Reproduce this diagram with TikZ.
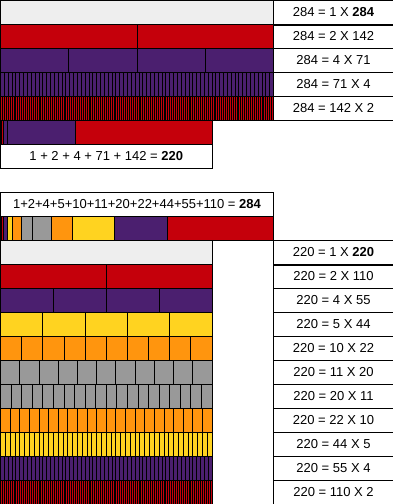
\documentclass[tikz,border=0pt]{standalone}
\usepackage{fontspec}
\setmainfont{Liberation Sans}
\usepackage{xcolor}
\usepackage{tikz}
\definecolor{barLight}{HTML}{EEEEEE}
\definecolor{barRed}{HTML}{C5000B}
\definecolor{barPurple}{HTML}{4B1F6F}
\definecolor{barYellow}{HTML}{FFD320}
\definecolor{barOrange}{HTML}{FF950E}
\definecolor{barGray}{HTML}{999999}
\def\unit{0.9613}

\begin{document}
\begin{tikzpicture}[x=1pt,y=-1pt,line width=1pt,font=\fontsize{13}{15}\selectfont,
      slot/.style={draw,line width=0.8pt},
      cell/.style={draw,minimum width=120pt,minimum height=24pt,inner sep=0pt,outer sep=0pt},
      sumbox/.style={draw,minimum height=24pt,inner sep=0pt,outer sep=0pt,anchor=north west}]
    \useasboundingbox (-0.5,-0.5) rectangle (392.5,503.5);
    % 284 split into equal parts
    \foreach \y/\n/\c in {0/1/barLight,24/2/barRed,48/4/barPurple,72/71/barPurple,96/142/barRed}{
      \pgfmathsetmacro{\w}{273/\n}
      \foreach \i in {1,...,\n}{\draw[slot,fill=\c] ({(\i-1)*\w},\y) rectangle ++(\w,24);}
    }
    \foreach \y/\t [count=\k] in {12/{284 = 1 X \textbf{284}},36/{284 = 2 X 142},60/{284 = 4 X 71},
        84/{284 = 71 X 4},108/{284 = 142 X 2}}{
      \node[cell] (top\k) at (333,\y) {\t};
    }
    \draw[line width=2pt] (top1.south west) -- (top1.south east);
    % divisors of 284
    \foreach \a/\b/\c in {0/1/barRed,1/3/barRed,3/7/barPurple,7/78/barPurple,78/220/barRed}
      \draw[slot,fill=\c] ({\a*\unit},120) rectangle ({\b*\unit},144);
    \node[sumbox,minimum width=211.5pt] (sumA) at (0,144) {1 + 2 + 4 + 71 + 142 = \textbf{220}};

    % divisors of 220
    \node[sumbox,minimum width=273pt] (sumB) at (0,192) {1+2+4+5+10+11+20+22+44+55+110 = \textbf{284}};
    \foreach \a/\b/\c in {0/1/barRed,1/3/barRed,3/7/barPurple,7/12/barYellow,12/22/barOrange,22/33/barGray,
        33/53/barGray,53/75/barOrange,75/119/barYellow,119/174/barPurple,174/284/barRed}
      \draw[slot,fill=\c] ({\a*\unit},216) rectangle ({\b*\unit},240);
    % 220 split into equal parts
    \foreach \y/\n/\c in {240/1/barLight,264/2/barRed,288/4/barPurple,312/5/barYellow,336/10/barOrange,
        360/11/barGray,384/20/barGray,408/22/barOrange,432/44/barYellow,456/55/barPurple,480/110/barRed}{
      \pgfmathsetmacro{\w}{211.5/\n}
      \foreach \i in {1,...,\n}{\draw[slot,fill=\c] ({(\i-1)*\w},\y) rectangle ++(\w,24);}
    }
    \foreach \y/\t [count=\k] in {252/{220 = 1 X \textbf{220}},276/{220 = 2 X 110},300/{220 = 4 X 55},
        324/{220 = 5 X 44},348/{220 = 10 X 22},372/{220 = 11 X 20},396/{220 = 20 X 11},
        420/{220 = 22 X 10},444/{220 = 44 X 5},468/{220 = 55 X 4},492/{220 = 110 X 2}}{
      \node[cell] (bot\k) at (333,\y) {\t};
    }
    \draw[line width=2pt] (bot1.south west) -- (bot1.south east);
  \end{tikzpicture}
\end{document}
